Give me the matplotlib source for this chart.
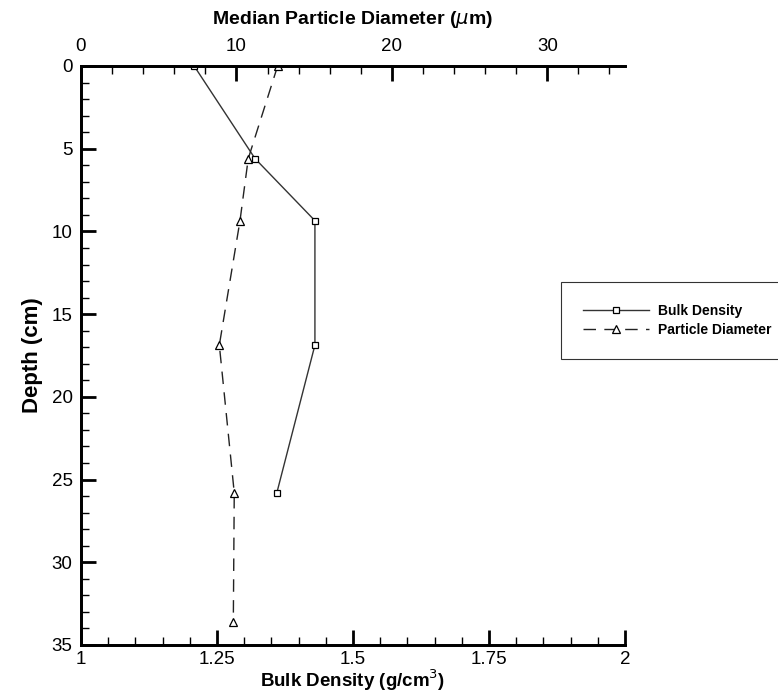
import matplotlib
matplotlib.use('Agg')
import matplotlib.pyplot as plt
from matplotlib.ticker import MultipleLocator

plt.rcParams['font.family'] = ['Liberation Sans', 'DejaVu Sans']

# Bulk density profile (g/cm3 vs depth cm)
bulk_density = [1.208, 1.32, 1.43, 1.43, 1.36]
bulk_depth = [0.0, 5.6, 9.35, 16.87, 25.8]

# Median particle diameter profile (um vs depth cm)
particle_diameter = [12.65, 10.76, 10.23, 8.9, 9.86, 9.8]
particle_depth = [0.0, 5.6, 9.35, 16.87, 25.8, 33.6]

fig = plt.figure(figsize=(7.78, 6.93), dpi=100)
ax = fig.add_axes([81 / 778, 1 - 645 / 693, 544 / 778, 579 / 693])
ax2 = ax.twiny()

l1, = ax.plot(bulk_density, bulk_depth, color='#333333', linewidth=1.0,
              marker='s', markersize=5, markerfacecolor='white',
              markeredgecolor='black', markeredgewidth=0.9, label='Bulk Density')
l2, = ax2.plot(particle_diameter, particle_depth, color='#222222', linewidth=1.0,
               linestyle=(0, (9, 6)), marker='^', markersize=6,
               markerfacecolor='white', markeredgecolor='black',
               markeredgewidth=0.9, label='Particle Diameter')

ax.set_xlim(1, 2)
ax.set_ylim(35, 0)
ax2.set_xlim(0, 35)

ax.xaxis.set_minor_locator(MultipleLocator(0.05))
ax.yaxis.set_major_locator(MultipleLocator(5))
ax.yaxis.set_minor_locator(MultipleLocator(1))
ax2.xaxis.set_major_locator(MultipleLocator(10))
ax2.xaxis.set_minor_locator(MultipleLocator(2))

ax.set_xticks([1, 1.25, 1.5, 1.75, 2])
ax.set_xticklabels(['1', '1.25', '1.5', '1.75', '2'])

for a in (ax, ax2):
    a.tick_params(which='major', direction='in', length=11, width=2,
                  labelsize=13.5, pad=4)
    a.tick_params(which='minor', direction='in', length=6, width=1)
    for s in a.spines.values():
        s.set_linewidth(2)
    a.spines['right'].set_visible(False)
ax.tick_params(axis='y', pad=6)
ax2.tick_params(axis='x', pad=8)

ax.set_xlabel('Bulk Density (g/cm$^3$)', fontsize=13.5, fontweight='bold', labelpad=0)
ax.set_ylabel('Depth (cm)', fontsize=16, fontweight='bold', labelpad=6)
ax2.set_xlabel('Median Particle Diameter ($\\mu$m)', fontsize=14,
               fontweight='bold', labelpad=10)

leg = fig.legend(handles=[l1, l2], loc='upper left',
                 bbox_to_anchor=(561 / 778, 1 - 282 / 693),
                 borderaxespad=0, frameon=True, fancybox=False,
                 prop={'size': 10, 'weight': 'bold'}, handlelength=4.7,
                 handletextpad=0.7, borderpad=1.6, labelspacing=0.35)
leg.get_frame().set_edgecolor('black')
leg.get_frame().set_linewidth(0.8)

fig.savefig('out.png', dpi=100)
